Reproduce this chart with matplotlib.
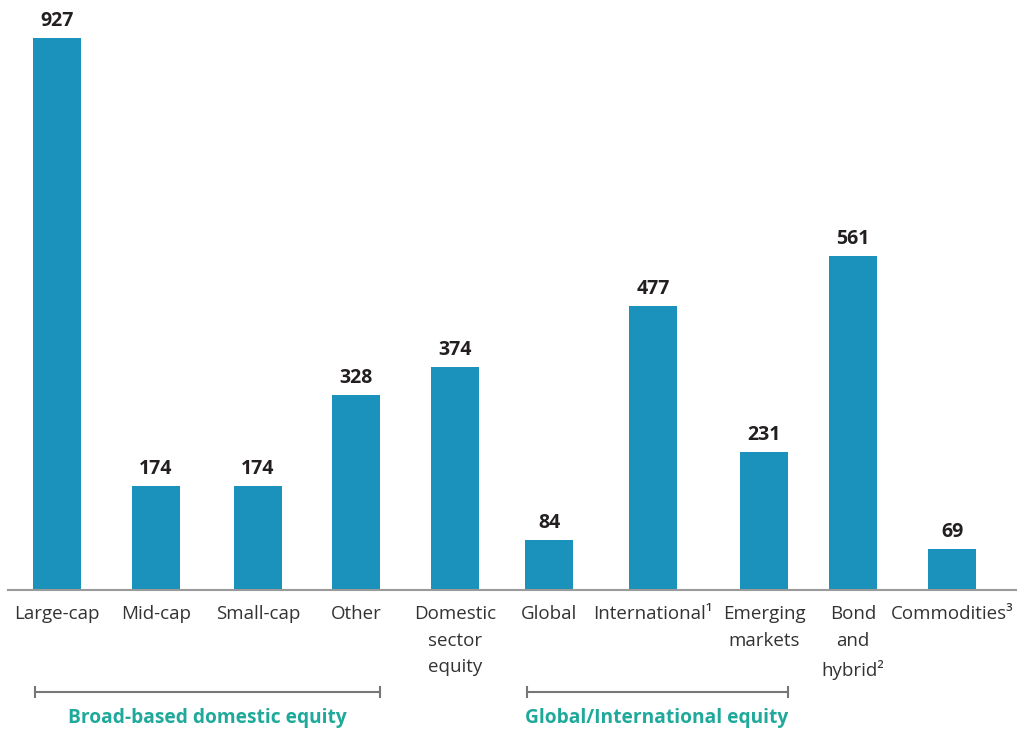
import matplotlib
matplotlib.use("Agg")
import matplotlib.pyplot as plt

# datos
categorias = ["Large-cap", "Mid-cap", "Small-cap", "Other", "Domestic\nsector\nequity",
              "Global", "International¹", "Emerging\nmarkets", "Bond\nand\nhybrid²",
              "Commodities³"]
valores = [927, 174, 174, 328, 374, 84, 477, 231, 561, 69]
grupos = ["Broad-based domestic equity", "Global/International equity"]

# posiciones (pixeles) de los centros de barra
pos = [57, 156, 258, 356, 455, 549, 653, 764, 853, 952]
W, H = 1017, 730
base = 590
escala = 0.5955  # px por unidad

plt.rcParams['font.family'] = ['Open Sans', 'DejaVu Sans']
fig = plt.figure(figsize=(W/100, H/100), dpi=100)
ax = fig.add_axes([0, 1 - base/H, 1, base/H])
ax.set_xlim(0, W)
ax.set_ylim(0, base/escala)
ax.axis("off")

ax.bar(pos, valores, width=48, color="#1a92bb", zorder=2)
for x, v in zip(pos, valores):
    ax.text(x, v + 7/escala, str(v), ha="center", va="bottom", fontsize=14,
            fontweight="bold", color="#231f20")

def fx(x):
    return x / W

def fy(y):
    return 1 - y / H

# linea base
fig.add_artist(plt.Line2D([fx(8), fx(1017)], [fy(590), fy(590)], color="#9a9a9a", lw=1.5))

# etiquetas de categorias
for x, c in zip(pos, categorias):
    fig.text(fx(x), fy(605), c, ha="center", va="top", fontsize=13.5,
             color="#333333", linespacing=1.62)

# llaves de grupo
for (x0, x1) in [(35, 380), (527, 788)]:
    fig.add_artist(plt.Line2D([fx(x0), fx(x1)], [fy(692), fy(692)], color="#777777", lw=1.5))
    for xe in (x0, x1):
        fig.add_artist(plt.Line2D([fx(xe), fx(xe)], [fy(687), fy(697)], color="#777777", lw=1.5))

fig.text(fx(207), fy(718), grupos[0], ha="center", va="center", fontsize=13.8,
         fontweight="bold", color="#1fa99a")
fig.text(fx(657), fy(718), grupos[1], ha="center", va="center", fontsize=13.8,
         fontweight="bold", color="#1fa99a")

fig.savefig("out.png", dpi=100)
